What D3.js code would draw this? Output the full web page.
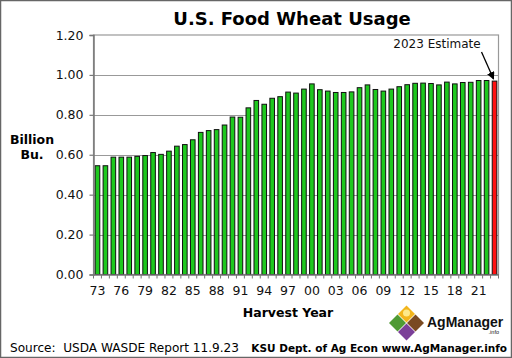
<!DOCTYPE html>
<html><head><meta charset="utf-8">
<script src="https://cdn.jsdelivr.net/npm/d3@7"></script>
<style>html,body{margin:0;padding:0;background:#fff;}svg{display:block;}</style>
</head><body>
<svg id="c" width="512" height="358"></svg>
<script>
const years = ["73","74","75","76","77","78","79","80","81","82","83","84","85","86","87","88","89","90","91","92","93","94","95","96","97","98","99","00","01","02","03","04","05","06","07","08","09","10","11","12","13","14","15","16","17","18","19","20","21","22","23"];
const usage = [0.545,0.545,0.588,0.588,0.588,0.592,0.596,0.611,0.602,0.618,0.643,0.651,0.675,0.712,0.721,0.726,0.749,0.789,0.788,0.835,0.872,0.853,0.883,0.891,0.914,0.909,0.929,0.955,0.926,0.919,0.912,0.912,0.915,0.936,0.950,0.927,0.919,0.929,0.941,0.951,0.958,0.959,0.957,0.950,0.964,0.955,0.962,0.963,0.972,0.972,0.969];
const yTicks = [0,0.2,0.4,0.6,0.8,1.0,1.2];
const xLabelYears = ["73","76","79","82","85","88","91","94","97","00","03","06","09","12","15","18","21"];
const estimateYear = "23";

const svg = d3.select("#c");
const F = "DejaVu Sans, Verdana, sans-serif";
const m = {l:93.5, r:498.5, t:35, b:274.5};

svg.append("rect").attr("x",0.5).attr("y",0.5).attr("width",511).attr("height",357)
  .attr("fill","#fff").attr("stroke","#666").attr("stroke-width",1.5);

const x = d3.scaleBand().domain(years).range([m.l, m.r]).paddingInner(0.42).paddingOuter(0.21);
const y = d3.scaleLinear().domain([0,1.2]).range([m.b, m.t]);

// gridlines
svg.append("g").selectAll("line").data(yTicks.slice(1,-1)).join("line")
  .attr("x1",m.l).attr("x2",m.r).attr("y1",d=>Math.round(y(d))+0.5).attr("y2",d=>Math.round(y(d))+0.5)
  .attr("stroke","#999").attr("stroke-width",1.2);

// plot border
svg.append("rect").attr("x",m.l).attr("y",m.t).attr("width",m.r-m.l).attr("height",m.b-m.t)
  .attr("fill","none").attr("stroke","#999").attr("stroke-width",1.2);

// bars
svg.append("g").selectAll("rect").data(years).join("rect")
  .attr("x",d=>x(d)).attr("width",x.bandwidth())
  .attr("y",(d,i)=>y(usage[i])).attr("height",(d,i)=>y(0)-y(usage[i]))
  .attr("fill",d=>d===estimateYear?"#ff1010":"#1ec81e")
  .attr("stroke","#111").attr("stroke-width",1);

// y axis
const ya = d3.axisLeft(y).tickValues(yTicks).tickFormat(d3.format(".2f")).tickSize(4).tickPadding(6);
const gy = svg.append("g").attr("transform",`translate(${m.l},0)`).call(ya);
gy.select(".domain").attr("stroke","#777").attr("stroke-width",1.5);
gy.selectAll(".tick line").attr("stroke","#777").attr("stroke-width",1.2);
gy.selectAll("text").attr("font-family",F).attr("font-size",12.5).attr("fill","#111");

// x axis
const step = x.step();
const xa = d3.axisBottom(x).tickValues(xLabelYears).tickSize(0).tickPadding(12);
const gx = svg.append("g").attr("transform",`translate(0,${m.b})`).call(xa);
gx.select(".domain").attr("stroke","#777").attr("stroke-width",1.5);
gx.selectAll("text").attr("font-family",F).attr("font-size",12.5).attr("fill","#111");
// small ticks between bars
svg.append("g").selectAll("line").data(d3.range(years.length+1)).join("line")
  .attr("x1",i=>m.l + i*step).attr("x2",i=>m.l + i*step)
  .attr("y1",m.b).attr("y2",m.b+4).attr("stroke","#777").attr("stroke-width",1);

// title
svg.append("text").attr("x",292).attr("y",25).attr("text-anchor","middle")
  .attr("font-family",F).attr("font-weight","bold").attr("font-size",18).attr("fill","#000")
  .text("U.S. Food Wheat Usage");

// y label
const yl = svg.append("text").attr("font-family",F).attr("font-weight","bold").attr("font-size",12.5)
  .attr("text-anchor","middle").attr("fill","#000");
yl.append("tspan").attr("x",32).attr("y",144).text("Billion");
yl.append("tspan").attr("x",32).attr("y",159).text("Bu.");

// x label
svg.append("text").attr("x",288).attr("y",317).attr("text-anchor","middle")
  .attr("font-family",F).attr("font-weight","bold").attr("font-size",12.5).attr("fill","#000")
  .text("Harvest Year");

// annotation
svg.append("defs").append("marker").attr("id","ah").attr("viewBox","0 0 10 10")
  .attr("refX",9).attr("refY",5).attr("markerWidth",6).attr("markerHeight",6).attr("orient","auto")
  .append("path").attr("d","M0,0 L10,5 L0,10 z").attr("fill","#000");
svg.append("text").attr("x",437).attr("y",48).attr("text-anchor","middle")
  .attr("font-family",F).attr("font-size",12).attr("fill","#111").text("2023 Estimate");
const ex = x(estimateYear)+x.bandwidth()/2;
svg.append("line").attr("x1",ex-13).attr("y1",52).attr("x2",ex-1).attr("y2",y(usage[usage.length-1])-2)
  .attr("stroke","#000").attr("stroke-width",1.3).attr("marker-end","url(#ah)");

// source
svg.append("text").attr("x",10).attr("y",352).attr("font-family",F).attr("font-size",12.5)
  .attr("textLength",229).attr("lengthAdjust","spacingAndGlyphs")
  .attr("fill","#000").attr("xml:space","preserve").text("Source:  USDA WASDE Report 11.9.23");
svg.append("text").attr("x",507).attr("y",352).attr("text-anchor","end").attr("font-family",F)
  .attr("font-weight","bold").attr("font-size",10.5).attr("fill","#000")
  .text("KSU Dept. of Ag Econ www.AgManager.info");

// logo
const lg = svg.append("g");
const dia = (cx,cy,r,fill)=>lg.append("path")
  .attr("d",`M${cx},${cy-r} L${cx+r},${cy} L${cx},${cy+r} L${cx-r},${cy} Z`).attr("fill",fill);
dia(406.5,314,8.5,"#f2b51c");
dia(397.5,323,8.5,"#4f9a34");
dia(415.5,323,8.5,"#7a4a22");
dia(406.5,332,8.5,"#7b3f98");
lg.append("circle").attr("cx",406.5).attr("cy",313).attr("r",3.5).attr("fill","#fde98a");
lg.append("text").attr("x",427).attr("y",327).attr("font-family","Liberation Sans, Arial, sans-serif")
  .attr("font-weight","bold").attr("font-size",14).attr("fill","#111").text("AgManager");
lg.append("text").attr("x",499).attr("y",334).attr("text-anchor","end").attr("font-family","Liberation Sans, Arial, sans-serif")
  .attr("font-size",5.5).attr("fill","#111").text(".info");
</script>
</body></html>
